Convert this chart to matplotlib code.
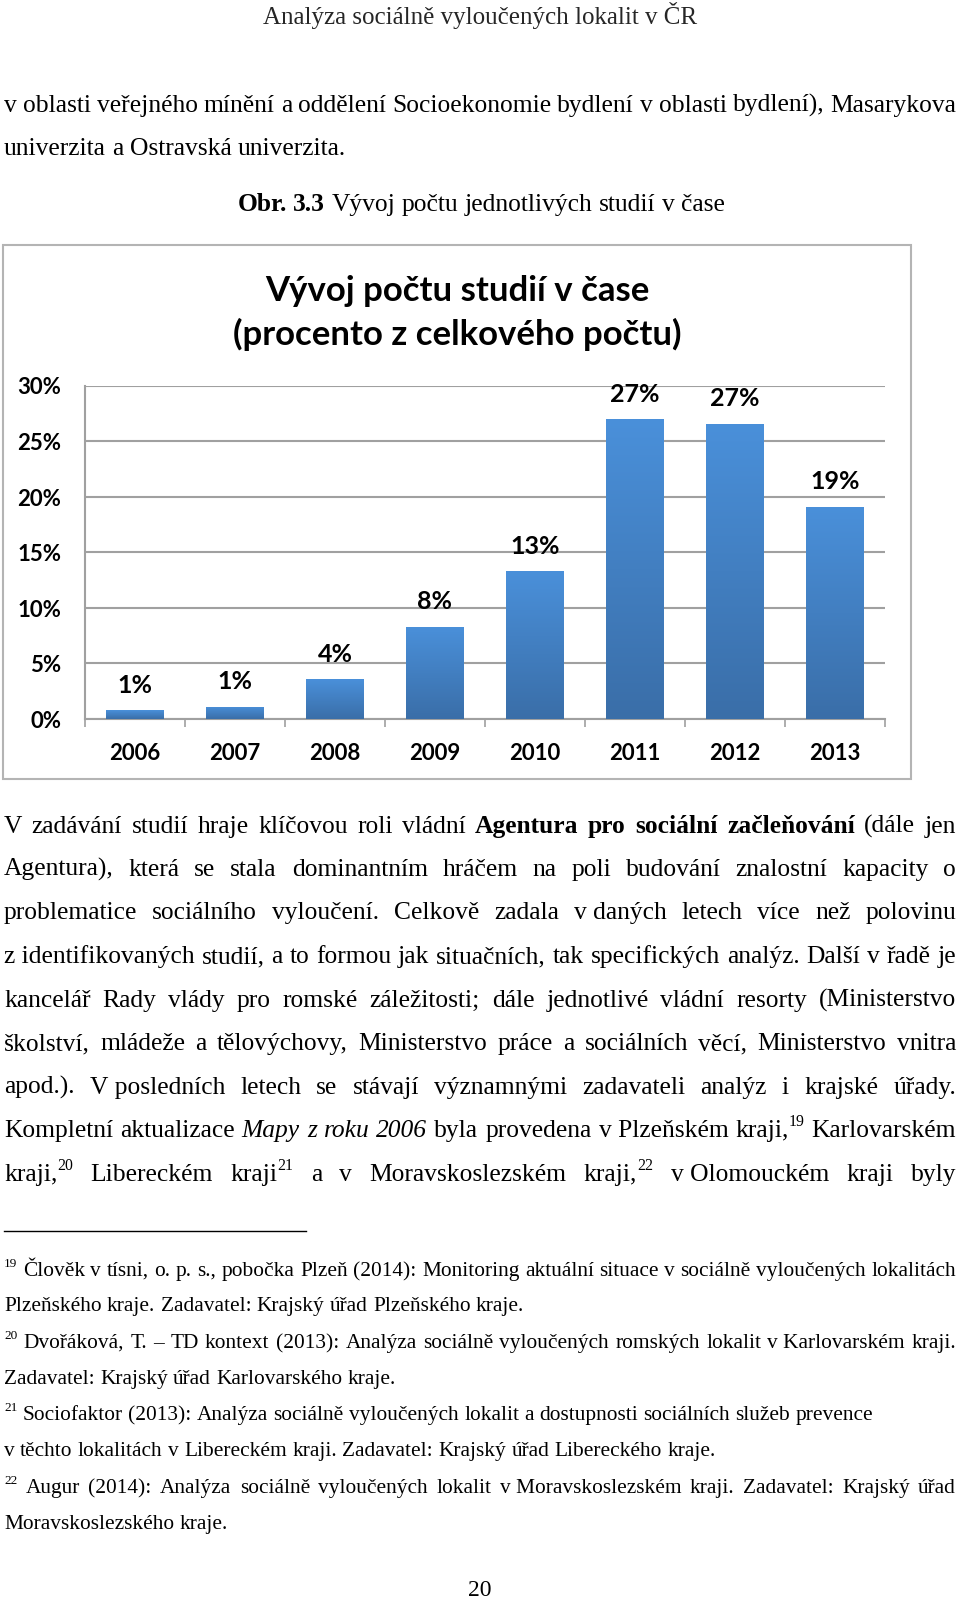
import numpy as np
import matplotlib
matplotlib.use("Agg")
import matplotlib.pyplot as plt
from matplotlib.colors import LinearSegmentedColormap
from matplotlib.patches import Rectangle

# chart data
years = ["2006", "2007", "2008", "2009", "2010", "2011", "2012", "2013"]
share = [0.8, 1.1, 3.6, 8.3, 13.3, 27.0, 26.6, 19.1]   # procenta
yticks = [0, 5, 10, 15, 20, 25, 30]
chart_title = ["Vývoj počtu studií v čase", "(procento z celkového počtu)"]

# page text ( *tučně*  _kurzíva_  ^horní index^ )
header = "Analýza sociálně vyloučených lokalit v ČR"
intro = ["v oblasti veřejného mínění a oddělení Socioekonomie bydlení v oblasti bydlení), Masarykova",
         "univerzita a Ostravská univerzita."]
caption = "*Obr. 3.3* Vývoj počtu jednotlivých studií v čase"
para = ["V zadávání studií hraje klíčovou roli vládní *Agentura pro sociální začleňování* (dále jen",
        "Agentura), která se stala dominantním hráčem na poli budování znalostní kapacity o",
        "problematice sociálního vyloučení. Celkově zadala v\u00a0daných letech více než polovinu",
        "z\u00a0identifikovaných studií, a to formou jak situačních, tak specifických analýz. Další v řadě je",
        "kancelář Rady vlády pro romské záležitosti; dále jednotlivé vládní resorty (Ministerstvo",
        "školství, mládeže a tělovýchovy, Ministerstvo práce a sociálních věcí, Ministerstvo vnitra",
        "apod.). V\u00a0posledních letech se stávají významnými zadavateli analýz i krajské úřady.",
        "Kompletní aktualizace _Mapy z roku 2006_ byla provedena v\u00a0Plzeňském kraji,^19^ Karlovarském",
        "kraji,^20^ Libereckém kraji^21^ a v Moravskoslezském kraji,^22^ v\u00a0Olomouckém kraji byly"]
para_just = [True] * 9
notes = ["^19^ Člověk v tísni, o. p. s., pobočka Plzeň (2014): Monitoring aktuální situace v sociálně vyloučených lokalitách",
         "Plzeňského kraje. Zadavatel: Krajský úřad Plzeňského kraje.",
         "^20^ Dvořáková, T. – TD kontext (2013): Analýza sociálně vyloučených romských lokalit v\u00a0Karlovarském kraji.",
         "Zadavatel: Krajský úřad Karlovarského kraje.",
         "^21^ Sociofaktor (2013): Analýza sociálně vyloučených lokalit a dostupnosti sociálních služeb prevence",
         "v těchto lokalitách v Libereckém kraji. Zadavatel: Krajský úřad Libereckého kraje.",
         "^22^ Augur (2014): Analýza sociálně vyloučených lokalit v\u00a0Moravskoslezském kraji. Zadavatel: Krajský úřad",
         "Moravskoslezského kraje."]
notes_just = [True, False, True, False, False, False, True, False]
page_no = "20"

SERIF = ["Liberation Serif", "DejaVu Serif"]
SANS = ["Lato", "DejaVu Sans"]
PX = 100 / 72.0

fig = plt.figure(figsize=(9.6, 16.01), dpi=100)
page = fig.add_axes([0, 0, 1, 1])
page.set_xlim(0, 960)
page.set_ylim(1601, 0)
page.axis("off")
renderer = fig.canvas.get_renderer()


def parse(s):
    words, pieces, buf = [], [], ""
    b = it = sp = False
    for ch in s:
        if ch in "*_^ ":
            if buf:
                pieces.append((buf, b, it, sp))
                buf = ""
            if ch == "*":
                b = not b
            elif ch == "_":
                it = not it
            elif ch == "^":
                sp = not sp
            elif pieces:
                words.append(pieces)
                pieces = []
        else:
            buf += ch
    if buf:
        pieces.append((buf, b, it, sp))
    if pieces:
        words.append(pieces)
    return words


def width_of(txt, size):
    t = page.text(0, 0, txt, fontsize=size, family=SERIF)
    w = t.get_window_extent(renderer).width
    t.remove()
    return w


def draw_line(s, y, size, justify=False, x0=4, x1=956, center=None):
    items = []
    for w in parse(s):
        objs, wd = [], []
        for txt, b, it, sp in w:
            fs = size * 0.62 if sp else size
            yy = y - size * 0.42 * PX if sp else y
            t = page.text(0, yy, txt, fontsize=fs, family=SERIF,
                          fontweight="bold" if b else "normal",
                          fontstyle="italic" if it else "normal",
                          va="baseline", ha="left", color="black")
            objs.append(t)
            wd.append(t.get_window_extent(renderer).width)
        items.append((objs, wd))
    total = sum(sum(wd) for _, wd in items)
    space = width_of("n n", size) - width_of("nn", size)
    if justify and len(items) > 1:
        gap = (x1 - x0 - total) / (len(items) - 1)
    else:
        gap = space
    if center is not None:
        x = center - (total + gap * (len(items) - 1)) / 2
    else:
        x = x0
    for objs, wd in items:
        for t, w in zip(objs, wd):
            t.set_x(x)
            x += w
        x += gap


# velikost písma podle šířky řádku
body = 18 * 945 / width_of(para[3].replace("\u00a0", " "), 18)
small = 15 * 950 / width_of(notes[2].replace("^", "").replace("\u00a0", " "), 15)

page.text(480, 24, header, fontsize=18, family=SERIF, color="#262626",
          ha="center", va="baseline")
draw_line(intro[0], 112, body, justify=True)
draw_line(intro[1], 155, body)
draw_line(caption, 211, body, center=481)

for s, y, j in zip(para, [833, 876, 919, 963, 1007, 1050, 1094, 1137, 1181], para_just):
    draw_line(s, y, body, justify=j)

page.plot([4, 306], [1231, 1231], color="black", lw=1)
for s, y, j in zip(notes, [1276, 1311, 1348, 1384, 1420, 1456, 1493, 1529], notes_just):
    draw_line(s, y, small, justify=j)

page.text(480, 1596, page_no, fontsize=17, family=SERIF, ha="center", va="baseline")

# chart frame and title
page.add_patch(Rectangle((3, 245), 908, 534, fill=False, ec="#b4b4b4", lw=1.5))
page.text(457, 291, chart_title[0], fontsize=25, family=SANS, fontweight="bold",
          ha="center", va="center")
page.text(457, 334, chart_title[1], fontsize=25, family=SANS, fontweight="bold",
          ha="center", va="center")

# the bar chart
ax = fig.add_axes([85 / 960, 1 - 719 / 1601, 800 / 960, (719 - 386) / 1601])
ax.patch.set_alpha(0)
x = np.arange(len(years))
bars = ax.bar(x, share, width=0.58, color="#4382c8", zorder=2)

cmap = LinearSegmentedColormap.from_list("bl", ["#3a6ea8", "#4a90da"])
grad = np.linspace(0, 1, 256).reshape(-1, 1)
for b in bars:
    im = ax.imshow(grad, cmap=cmap, origin="lower", aspect="auto", zorder=3,
                   extent=[b.get_x(), b.get_x() + b.get_width(), 0, b.get_height()])
    im.set_clip_path(b)

for xi, v in zip(x, share):
    ax.annotate(f"{round(v)}%", (xi, v), xytext=(0, 25), textcoords="offset pixels",
                ha="center", va="center", fontsize=18, fontweight="bold", family=SANS)

ax.set_xlim(-0.5, len(years) - 0.5)
ax.set_ylim(0, 30)
ax.set_yticks(yticks)
ax.set_yticklabels([f"{t}%" for t in yticks], fontsize=16, fontweight="bold", family=SANS)
ax.set_xticks(x)
ax.set_xticklabels(years, fontsize=16, fontweight="bold", family=SANS)
ax.set_xticks(np.arange(-0.5, len(years)), minor=True)
ax.tick_params(axis="x", which="major", length=0, pad=17)
ax.tick_params(axis="x", which="minor", length=6, width=1.2, color="#a0a0a0")
ax.tick_params(axis="y", length=0, pad=17)
ax.grid(axis="y", color="#a0a0a0", lw=1.5, zorder=0)
ax.set_axisbelow(True)
for side in ["top", "right"]:
    ax.spines[side].set_visible(False)
for side in ["left", "bottom"]:
    ax.spines[side].set_color("#a0a0a0")
    ax.spines[side].set_linewidth(1.5)

fig.savefig("out.png", dpi=100)
